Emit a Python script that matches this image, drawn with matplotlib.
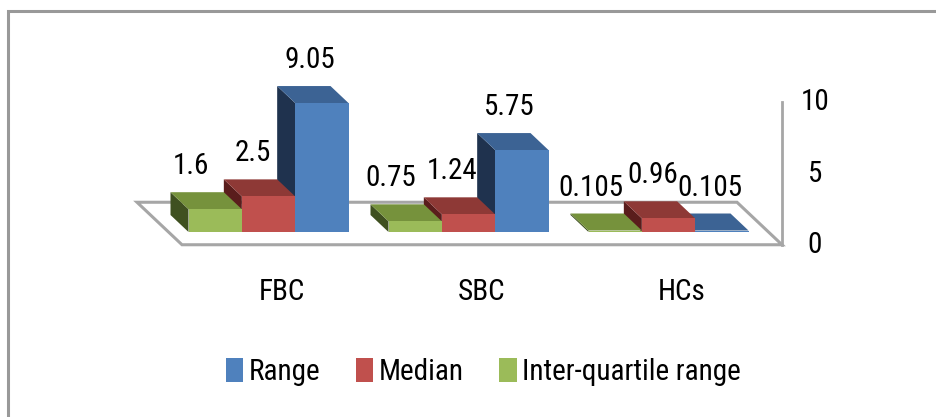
import matplotlib
matplotlib.use('Agg')
from matplotlib import pyplot as plt
from matplotlib import font_manager
from matplotlib.patches import Polygon, Rectangle, Patch

categories = ['FBC', 'SBC', 'HCs']
range_vals = [9.05, 5.75, 0.105]
median_vals = [2.5, 1.24, 0.96]
iqr_vals = [1.6, 0.75, 0.105]
y_ticks = [0, 5, 10]

# series drawn left to right inside each group: IQR, Median, Range
series = [
   ('Inter-quartile range', iqr_vals, ('#9BBB59', '#76923C', '#3F5020')),
   ('Median', median_vals, ('#C0504D', '#8E3936', '#5A1D1C')),
   ('Range', range_vals, ('#4F81BD', '#3C6394', '#1F324E')),
]

def pick_font():
   # the original uses a narrow face (Calibri, squeezed); take the narrowest we have
   fonts = font_manager.fontManager.ttflist
   names = {f.name for f in fonts}
   for n in ['Liberation Sans Narrow', 'Roboto Condensed', 'Open Sans Condensed']:
      if n in names:
         return n, 'normal', 21
   for fo in fonts:
      if fo.name == 'DejaVu Sans' and fo.stretch in ('condensed', 'semi-condensed'):
         return 'DejaVu Sans', 'condensed', 19
   if 'Roboto' in names:
      return 'Roboto', 'normal', 18.5
   return 'DejaVu Sans', 'normal', 17

family, stretch, FS = pick_font()
plt.rcParams['font.family'] = family
plt.rcParams['font.stretch'] = stretch

W, H, DPI = 936, 417, 100
PX_X = 200.0      # pixels per category
PX_Y = 14.25      # pixels per value unit
X0_PX, Y0_PX = 268.5, 232.0   # pixel position of first category centre, value 0

fig = plt.figure(figsize=(W / DPI, H / DPI), dpi=DPI)
ax = fig.add_axes([0, 0, 1, 1])
ax.set_xlim(-X0_PX / PX_X, (W - X0_PX) / PX_X)
ax.set_ylim((Y0_PX - H) / PX_Y, Y0_PX / PX_Y)
ax.axis('off')

# oblique depth of one bar (18 px left, 17 px up)
ddx, ddy = -18 / PX_X, 17 / PX_Y
w = 0.8 / 3

def px(dx=0, dy=0):
   return dx / PX_X, dy / PX_Y

# floor
f, b = -0.75, 1.75
xl, xr = -0.5, len(categories) - 0.5
floor = [(xl + f * ddx, f * ddy), (xr + f * ddx, f * ddy),
         (xr + b * ddx, b * ddy), (xl + b * ddx, b * ddy)]
ax.add_patch(Polygon(floor, closed=True, facecolor='white', edgecolor='#a6a6a6',
                     lw=2.2, zorder=1))
# vertical axis line at the front right corner
cx, cy = xr + f * ddx, f * ddy
ax.plot([cx, cx], [cy, cy + max(y_ticks)], color='#a6a6a6', lw=2.0, zorder=1)
for t in y_ticks:
   ax.text(cx + px(33)[0], cy + t, str(t), fontsize=FS, ha='center', va='center')

label_shift = [-6, 2, 6]
z = 2
for i, cat in enumerate(categories):
   # draw right to left so nearer faces end up on top
   for j in reversed(range(len(series))):
      name, vals, (c_front, c_top, c_side) = series[j]
      v = vals[i]
      x0 = i + (j - 1) * w - w / 2
      side = [(x0, 0), (x0, v), (x0 + ddx, v + ddy), (x0 + ddx, ddy)]
      top = [(x0, v), (x0 + w, v), (x0 + w + ddx, v + ddy), (x0 + ddx, v + ddy)]
      ax.add_patch(Polygon(side, closed=True, facecolor=c_side, lw=0, zorder=z))
      ax.add_patch(Polygon(top, closed=True, facecolor=c_top, lw=0, zorder=z))
      ax.add_patch(Rectangle((x0, 0), w, v, facecolor=c_front, lw=0, zorder=z))
      z += 1
      lx = x0 + w / 2 + ddx + px(label_shift[j])[0]
      ly = v + ddy + px(dy=26)[1]
      ax.text(lx, ly, f'{v:g}', fontsize=FS, ha='center', va='center', zorder=50)
   ax.text(i + px(13)[0], f * ddy - px(dy=47)[1], cat, fontsize=FS,
           ha='center', va='center')

handles = [Patch(facecolor=s[2][0], edgecolor='none', label=s[0]) for s in reversed(series)]
fig.legend(handles=handles, loc='center', bbox_to_anchor=(483.5 / W, 1 - 372 / H),
           ncol=3, frameon=False, fontsize=FS, handlelength=0.6, handleheight=0.85,
           handletextpad=0.2, columnspacing=1.2)

fig.add_artist(Rectangle((8 / W, -0.1), 1.2, 1.1 - 11 / H, transform=fig.transFigure,
                         facecolor='none', edgecolor='#999999', lw=2.2))

fig.savefig('out.png', dpi=DPI)
